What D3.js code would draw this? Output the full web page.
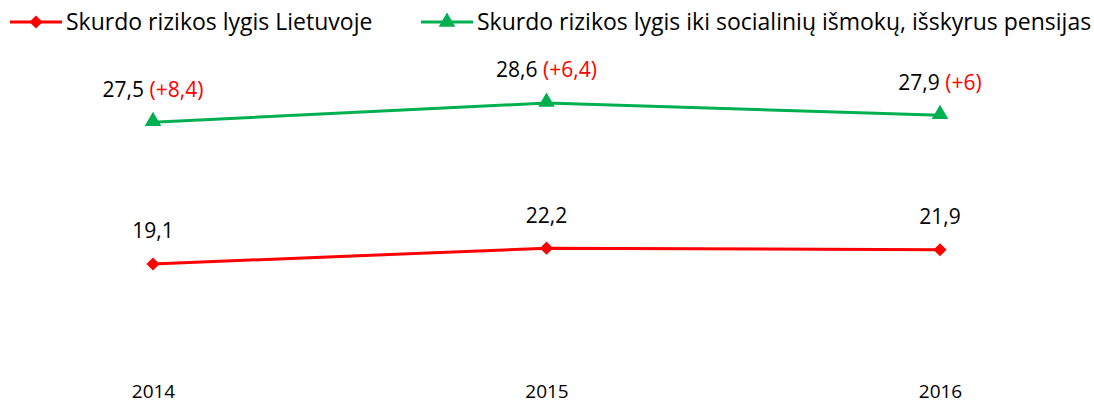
<!DOCTYPE html>
<html>
<head>
<meta charset="utf-8">
<script src="https://cdn.jsdelivr.net/npm/d3@7"></script>
<style>
  body { margin: 0; background: #fff; }
  svg { font-family: "Open Sans", sans-serif; }
</style>
</head>
<body>
<svg></svg>
<script>
// metai ir reikšmės
const years = ["2014", "2015", "2016"];
const riskLT = [19.1, 22.2, 21.9];
const riskBefore = [27.5, 28.6, 27.9];
const diffLabels = ["(+8,4)", "(+6,4)", "(+6)"];
const seriesNames = [
    "Skurdo rizikos lygis Lietuvoje",
    "Skurdo rizikos lygis iki socialinių išmokų, išskyrus pensijas"
];

var svgWidth = 1094,
    svgHeight = 403;

var red = "#ff0000",
    green = "#00b050";

var svg = d3.select("svg")
    .attr("width", svgWidth)
    .attr("height", svgHeight);

var fmt = function(v) { return String(v).replace(".", ","); };

//x axis
var x = d3.scalePoint()
    .domain(years)
    .range([153, 940]);

//primary / secondary y axis (kaip Excel)
var yRed = d3.scaleLinear()
    .domain([15, 30])
    .range([284.9, 208.4]);

var yGreen = d3.scaleLinear()
    .domain([27, 29])
    .range([131, 96]);

var redData = years.map(function(d, i) { return { year: d, v: riskLT[i] }; });
var greenData = years.map(function(d, i) { return { year: d, v: riskBefore[i], diff: diffLabels[i] }; });

var lineRed = d3.line()
    .x(function(d) { return x(d.year) })
    .y(function(d) { return yRed(d.v) });

var lineGreen = d3.line()
    .x(function(d) { return x(d.year) })
    .y(function(d) { return yGreen(d.v) });

var diamond = d3.symbol().type(d3.symbolDiamond2).size(110);
var triangle = d3.symbol().type(d3.symbolTriangle).size(120);

// x axis labels
var xAxis = svg.append("g")
    .attr("transform", "translate(0,391)")
    .call(d3.axisBottom(x).tickSize(0).tickPadding(0));
xAxis.select(".domain").remove();
xAxis.selectAll("text")
    .attr("dy", "0.35em")
    .attr("fill", "#000")
    .style("font-size", "19px")
    .style("font-family", "'Open Sans', sans-serif");

// green line
svg.append("path")
    .datum(greenData)
    .attr("fill", "none")
    .attr("stroke", green)
    .attr("stroke-width", 3)
    .attr("d", lineGreen);

svg.selectAll(".tri")
    .data(greenData)
    .enter().append("path")
    .attr("transform", function(d) { return "translate(" + x(d.year) + "," + (yGreen(d.v) - 1) + ")" })
    .attr("fill", green)
    .attr("d", triangle);

var gl = svg.selectAll(".glabel")
    .data(greenData)
    .enter().append("text")
    .attr("x", function(d) { return x(d.year) })
    .attr("y", function(d) { return yGreen(d.v) - 33 })
    .attr("dy", "0.35em")
    .attr("text-anchor", "middle")
    .style("font-size", "21px");
gl.append("tspan").attr("fill", "#000").text(function(d) { return fmt(d.v) + " " });
gl.append("tspan").attr("fill", red).text(function(d) { return d.diff });

// red line
svg.append("path")
    .datum(redData)
    .attr("fill", "none")
    .attr("stroke", red)
    .attr("stroke-width", 3)
    .attr("d", lineRed);

svg.selectAll(".dia")
    .data(redData)
    .enter().append("path")
    .attr("transform", function(d) { return "translate(" + x(d.year) + "," + yRed(d.v) + ")" })
    .attr("fill", red)
    .attr("d", diamond);

svg.selectAll(".rlabel")
    .data(redData)
    .enter().append("text")
    .attr("x", function(d) { return x(d.year) })
    .attr("y", function(d) { return yRed(d.v) - 33 })
    .attr("dy", "0.35em")
    .attr("text-anchor", "middle")
    .attr("fill", "#000")
    .style("font-size", "21px")
    .text(function(d) { return fmt(d.v) });

// legend
var legend = [
    { name: seriesNames[0], color: red, sym: diamond, x: 10 },
    { name: seriesNames[1], color: green, sym: triangle, x: 421 }
];
var lg = svg.selectAll(".legend")
    .data(legend)
    .enter().append("g")
    .attr("transform", function(d) { return "translate(" + d.x + ",22)" });
lg.append("line")
    .attr("x1", 0).attr("x2", 52)
    .attr("stroke", function(d) { return d.color })
    .attr("stroke-width", 3);
lg.append("path")
    .attr("transform", "translate(26,0)")
    .attr("fill", function(d) { return d.color })
    .attr("d", function(d) { return d.sym() });
lg.append("text")
    .attr("x", 56)
    .attr("dy", "0.35em")
    .attr("fill", "#000")
    .style("font-size", "23px")
    .text(function(d) { return d.name });
</script>
</body>
</html>
